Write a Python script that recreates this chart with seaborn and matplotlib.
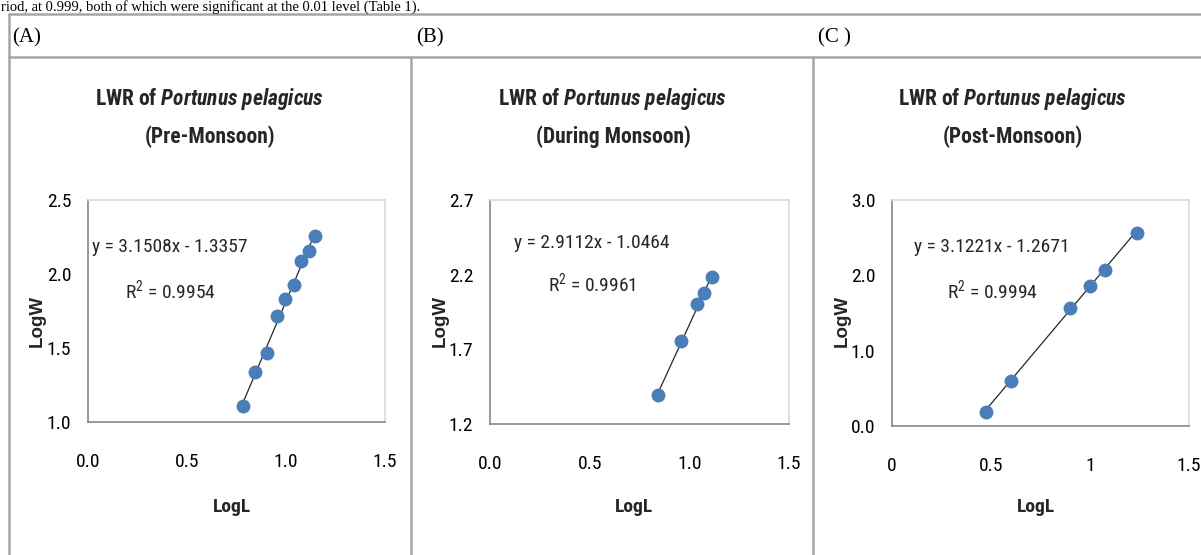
import matplotlib
matplotlib.use("Agg")
import matplotlib.pyplot as plt
from matplotlib import font_manager
from matplotlib.lines import Line2D
import numpy as np
import pandas as pd
import seaborn as sns

# ---- data: log length vs log weight for each season ----
pre_logL = [0.782, 0.844, 0.902, 0.954, 0.996, 1.040, 1.077, 1.114, 1.144]
pre_logW = [1.106, 1.335, 1.466, 1.717, 1.834, 1.924, 2.088, 2.156, 2.257]

dur_logL = [0.843, 0.957, 1.039, 1.076, 1.114]
dur_logW = [1.396, 1.753, 2.002, 2.076, 2.187]

post_logL = [0.475, 0.600, 0.900, 0.999, 1.077, 1.235]
post_logW = [0.190, 0.597, 1.571, 1.858, 2.071, 2.566]

slopes = [3.1508, 2.9112, 3.1221]
intercepts = [-1.3357, -1.0464, -1.2671]
r_squared = [0.9954, 0.9961, 0.9994]

seasons = ["Pre-Monsoon", "During Monsoon", "Post-Monsoon"]
panel_tags = ["(A)", "(B)", "(C )"]
y_ticks = [[1.0, 1.5, 2.0, 2.5], [1.2, 1.7, 2.2, 2.7], [0.0, 1.0, 2.0, 3.0]]
y_ticklabels = [["1.0", "1.5", "2.0", "2.5"], ["1.2", "1.7", "2.2", "2.7"],
                ["0.0", "1.0", "2.0", "3.0"]]
x_ticks = [0.0, 0.5, 1.0, 1.5]
x_ticklabels = [["0.0", "0.5", "1.0", "1.5"], ["0.0", "0.5", "1.0", "1.5"],
                ["0", "0.5", "1", "1.5"]]

series = [(pre_logL, pre_logW), (dur_logL, dur_logW), (post_logL, post_logW)]

# ---- fonts ----
def pick(names):
    for n in names:
        try:
            font_manager.findfont(font_manager.FontProperties(family=n),
                                  fallback_to_default=False)
            return n
        except Exception:
            pass
    return "DejaVu Sans"

narrow = pick(["Liberation Sans Narrow", "Roboto Condensed", "Liberation Sans"])
serif = pick(["Liberation Serif", "DejaVu Serif"])
sans = pick(["Liberation Sans", "DejaVu Sans"])

sns.set_theme(style="white")
plt.rcParams["font.family"] = [narrow, "DejaVu Sans"]
plt.rcParams["mathtext.fontset"] = "custom"
plt.rcParams["mathtext.rm"] = narrow
plt.rcParams["mathtext.it"] = f"{narrow}:italic:bold"
plt.rcParams["mathtext.bf"] = f"{narrow}:bold"

W, H = 1201, 555
fig = plt.figure(figsize=(W / 100, H / 100), dpi=100)
fig.patch.set_facecolor("white")

def fx(px):
    return px / W

def fy(py):
    return 1 - py / H

# running text from the page above the figure
fig.text(fx(1), fy(0), "riod, at 0.999, both of which were significant at the 0.01 level (Table 1).",
         family=[serif], fontsize=10.5, ha="left", va="top", color="black")

# table frame
frame_c = "#a6a6a6"
for (x0, y0, x1, y1) in [(9, 14, W, 14), (9, 57, W, 57), (9, 14, 9, H),
                         (411, 57, 411, H), (813, 57, 813, H)]:
    fig.add_artist(Line2D([fx(x0), fx(x1)], [fy(y0), fy(y1)], color=frame_c, lw=1.8))

tag_x = [12, 416, 818]
for tx, tag in zip(tag_x, panel_tags):
    fig.text(fx(tx), fy(38), tag, family=[serif], fontsize=15, ha="left",
             va="center", color="black")

# axes rectangles in pixel units: left, right, top, bottom
boxes = [(88, 385, 200, 422), (490, 789, 200, 424), (892, 1189, 200, 426)]
centers = [210, 613, 1013]
eq_pos = [(170, 247, 290), (592, 243, 283), (992, 247, 290)]
ylab_x = [37, 440, 842]
spine_dark = "#868686"
spine_light = "#d9d9d9"

for i in range(3):
    l, r, t, b = boxes[i]
    ax = fig.add_axes([fx(l), fy(b), fx(r - l), (b - t) / H])
    lo, hi = y_ticks[i][0], y_ticks[i][-1]
    df = pd.DataFrame({"LogL": series[i][0], "LogW": series[i][1]})

    # fitted trend line from the regression equation
    xs = np.array([min(series[i][0]), max(series[i][0])])
    fit = pd.DataFrame({"LogL": xs, "LogW": slopes[i] * xs + intercepts[i]})
    sns.lineplot(data=fit, x="LogL", y="LogW", ax=ax, color="#262626", lw=0.9,
                 zorder=2)
    sns.scatterplot(data=df, x="LogL", y="LogW", ax=ax, s=100, color="#4a7ebb",
                    edgecolor="#4a7ebb", linewidth=0, zorder=3)

    ax.set_xlim(0, 1.5)
    ax.set_ylim(lo, hi)
    ax.set_xticks(x_ticks)
    ax.set_xticklabels(x_ticklabels[i])
    ax.set_yticks(y_ticks[i])
    ax.set_yticklabels(y_ticklabels[i])
    ax.tick_params(axis="both", direction="out", length=5, width=1,
                   color=spine_dark, labelsize=14, labelcolor="black")
    ax.tick_params(axis="x", pad=17)
    ax.tick_params(axis="y", pad=7)
    ax.spines["left"].set_color(spine_dark)
    ax.spines["bottom"].set_color(spine_dark)
    ax.spines["top"].set_color(spine_light)
    ax.spines["right"].set_color(spine_light)
    for s in ax.spines.values():
        s.set_linewidth(1.2)
    ax.set_xlabel("")
    ax.set_ylabel("")
    ax.grid(False)

    # titles
    fig.text(fx(centers[i]), fy(99),
             r"LWR of $\mathit{Portunus\ pelagicus}$",
             fontsize=15.5, fontweight="bold", ha="center", va="center")
    fig.text(fx(centers[i]), fy(137), f"({seasons[i]})",
             fontsize=15.5, fontweight="bold", ha="center", va="center")

    # axis labels
    fig.text(fx(ylab_x[i]), fy(321), "LogW", family=[sans], fontsize=13.5,
             fontweight="bold", rotation=90, ha="center", va="center")
    fig.text(fx((l + r) / 2 - 5), fy(507), "LogL", fontsize=14,
             fontweight="bold", ha="center", va="center")

    # regression equation
    ex, ey1, ey2 = eq_pos[i]
    sign = "-" if intercepts[i] < 0 else "+"
    fig.text(fx(ex), fy(ey1),
             f"y = {slopes[i]:.4f}x {sign} {abs(intercepts[i]):.4f}",
             fontsize=14, ha="center", va="center")
    fig.text(fx(ex), fy(ey2), f"R$^2$ = {r_squared[i]:.4f}",
             fontsize=14, ha="center", va="center")

fig.savefig("out.png", dpi=100, facecolor="white")
